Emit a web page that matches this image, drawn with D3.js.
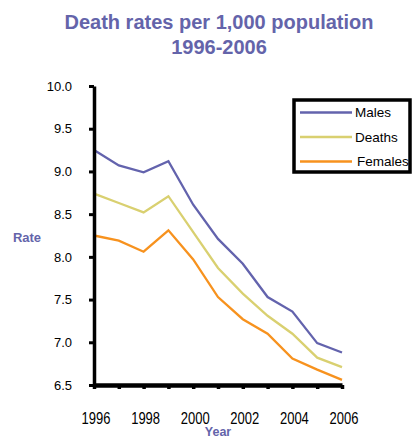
<!DOCTYPE html>
<html lang="en">
  <head>
    <meta charset="utf-8">
    <title>Death rates per 1,000 population</title>
    <style type="text/css">
body {
  margin: 0;
  background: #fff;
}
text {
  font-family: "Liberation Sans", Arial, Helvetica, sans-serif;
}
    </style>
  </head>
  <body>
    <div id="chart"></div>

    <script src="https://cdnjs.cloudflare.com/ajax/libs/d3/7.8.5/d3.min.js"></script>
    <script>
      var years = [1996, 1997, 1998, 1999, 2000, 2001, 2002, 2003, 2004, 2005, 2006];
      var males = [9.25, 9.07, 8.99, 9.12, 8.61, 8.21, 7.92, 7.53, 7.36, 6.99, 6.88];
      var deaths = [8.74, 8.63, 8.52, 8.71, 8.29, 7.87, 7.57, 7.31, 7.10, 6.82, 6.71];
      var females = [8.25, 8.19, 8.06, 8.31, 7.97, 7.53, 7.27, 7.10, 6.81, 6.68, 6.56];
      var seriesNames = ["Males", "Deaths", "Females"];
      var seriesColors = ["#6363ad", "#d9d070", "#f7921e"];
      var yTicks = [6.5, 7.0, 7.5, 8.0, 8.5, 9.0, 9.5, 10.0];
      var xLabels = [1996, 1998, 2000, 2002, 2004, 2006];

      var width = 413, height = 438;
      var titleColor = "#6464aa";

      var svg = d3.select("#chart").append("svg")
          .attr("width", width)
          .attr("height", height);

      // title
      svg.append("text")
          .attr("x", 219).attr("y", 29)
          .attr("text-anchor", "middle")
          .attr("font-size", 20).attr("font-weight", "bold")
          .attr("fill", titleColor)
          .text("Death rates per 1,000 population");
      svg.append("text")
          .attr("x", 219).attr("y", 54)
          .attr("text-anchor", "middle")
          .attr("font-size", 20).attr("font-weight", "bold")
          .attr("fill", titleColor)
          .text("1996-2006");

      var x = d3.scaleLinear().domain([1996, 2006]).range([94, 342]);
      var y = d3.scaleLinear().domain([6.5, 10]).range([385, 86]);

      // lines
      var data = [males, deaths, females];
      var line = d3.line()
          .x(function(d, i) { return x(years[i]); })
          .y(function(d) { return y(d); });

      svg.selectAll(".series")
        .data(data)
        .enter().append("path")
          .attr("class", "series")
          .attr("fill", "none")
          .attr("stroke", function(d, i) { return seriesColors[i]; })
          .attr("stroke-width", 2.3)
          .attr("stroke-linejoin", "miter")
          .attr("d", line);

      // y axis
      var yAxis = svg.append("g")
          .attr("transform", "translate(94,0)")
          .call(d3.axisLeft(y)
              .tickValues(yTicks)
              .tickFormat(d3.format(".1f"))
              .tickSize(5)
              .tickSizeOuter(0)
              .tickPadding(17));
      yAxis.select(".domain").attr("stroke-width", 3.5);
      yAxis.selectAll(".tick line").attr("stroke-width", 3);
      yAxis.selectAll("text").attr("font-size", 13).attr("font-family", null).attr("fill", "#000");

      // x axis
      var xAxis = svg.append("g")
          .attr("transform", "translate(0,385)")
          .call(d3.axisBottom(x)
              .tickValues(years)
              .tickFormat(function(d) { return xLabels.indexOf(d) >= 0 ? d : ""; })
              .tickSize(4)
              .tickSizeOuter(0)
              .tickPadding(22));
      xAxis.select(".domain").attr("stroke-width", 4.5);
      xAxis.selectAll(".tick line").attr("stroke-width", 3.5);
      xAxis.selectAll("text")
          .attr("font-size", 13).attr("font-family", null).attr("fill", "#000")
          .attr("dx", 1.5)
          .attr("transform", "translate(0,-3) scale(1,1.2)");

      // axis titles
      svg.append("text")
          .attr("x", 27).attr("y", 242)
          .attr("text-anchor", "middle")
          .attr("font-size", 13).attr("font-weight", "bold")
          .attr("fill", titleColor)
          .text("Rate");
      svg.append("text")
          .attr("x", 218).attr("y", 436)
          .attr("text-anchor", "middle")
          .attr("font-size", 12.5).attr("font-weight", "bold")
          .attr("fill", titleColor)
          .text("Year");

      // legend
      var legend = svg.append("g");
      legend.append("rect")
          .attr("x", 294).attr("y", 100)
          .attr("width", 116).attr("height", 72)
          .attr("fill", "#fff")
          .attr("stroke", "#000")
          .attr("stroke-width", 3.5);
      var item = legend.selectAll(".item")
        .data(seriesNames)
        .enter().append("g")
          .attr("class", "item")
          .attr("transform", function(d, i) { return "translate(0," + (112.5 + i * 24.5) + ")"; });
      item.append("line")
          .attr("x1", 300).attr("x2", 352)
          .attr("stroke", function(d, i) { return seriesColors[i]; })
          .attr("stroke-width", 2.5);
      item.append("text")
          .attr("x", function(d, i) { return i == 2 ? 357 : 355; })
          .attr("y", 4.5)
          .attr("font-size", 13.5)
          .attr("fill", "#000")
          .text(function(d) { return d; });
    </script>
  </body>
</html>
